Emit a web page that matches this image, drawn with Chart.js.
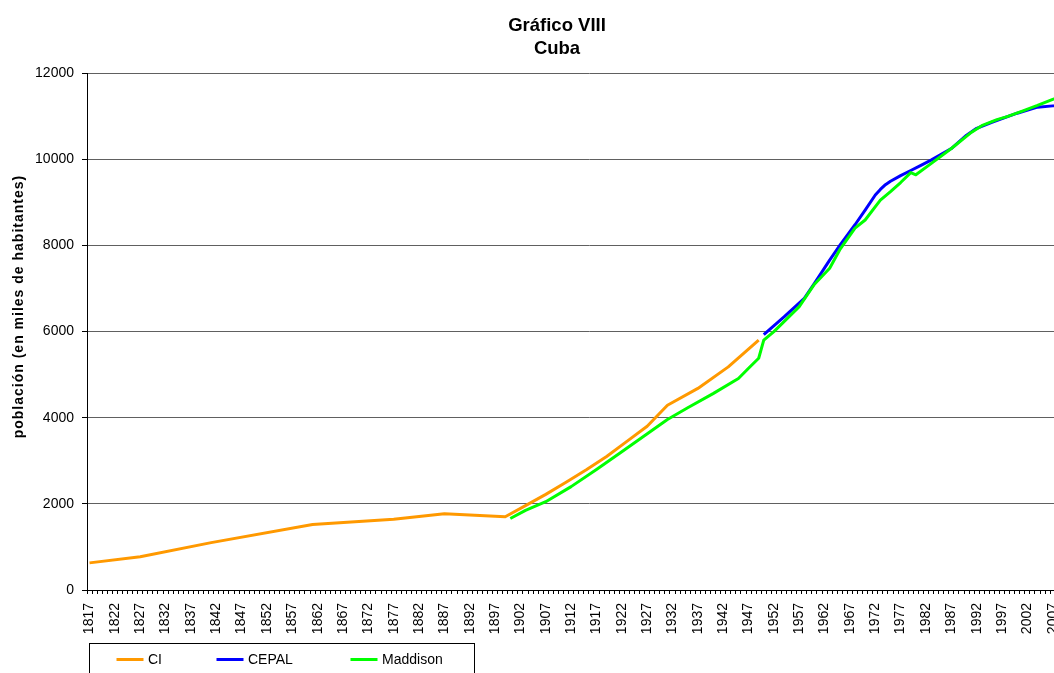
<!DOCTYPE html>
<html>
<head>
<meta charset="utf-8">
<title>Gráfico VIII - Cuba</title>
<script src="https://cdn.jsdelivr.net/npm/chart.js@4.4.1/dist/chart.umd.min.js"></script>
<style>
  html, body { margin: 0; padding: 0; background: #fff; overflow: hidden; }
  canvas { display: block; }
</style>
</head>
<body>
<canvas id="chart" width="1114" height="690"></canvas>
<script>
// categories: one per year, labelled every 5 years
// (the original chart runs past the right edge of the picture)
const firstYear = 1817;
const lastYear = 2014;
const labelStep = 5;
const years = [];
for (let y = firstYear; y <= lastYear; y++) years.push(String(y));

// CI
const ciYears = [1817, 1827, 1841, 1861, 1877, 1887, 1899, 1903, 1907, 1911, 1915, 1919, 1923, 1927, 1931, 1937, 1943, 1949];
const ciValues = [630, 770, 1100, 1520, 1640, 1770, 1700, 1960, 2220, 2500, 2790, 3100, 3450, 3800, 4290, 4680, 5180, 5800];

// CEPAL
const cepalYears = [1950, 1954, 1958, 1960, 1963, 1965, 1968, 1970, 1972, 1973, 1974, 1975, 1977, 1979, 1981, 1983, 1987, 1990, 1992, 1995, 2000, 2004, 2007, 2010];
const cepalValues = [5930, 6340, 6770, 7120, 7660, 8000, 8480, 8820, 9170, 9300, 9410, 9490, 9620, 9740, 9860, 9980, 10250, 10560, 10720, 10860, 11070, 11210, 11240, 11250];

// Maddison
const maddisonYears = [1900, 1903, 1907, 1912, 1917, 1922, 1928, 1931, 1935, 1940, 1945, 1947, 1949, 1950, 1952, 1957, 1960, 1963, 1965, 1968, 1970, 1973, 1975, 1977, 1979, 1980, 1983, 1987, 1991, 1993, 1996, 1998, 2001, 2004, 2007, 2008];
const maddisonValues = [1660, 1850, 2050, 2400, 2800, 3210, 3710, 3960, 4230, 4560, 4910, 5150, 5380, 5800, 6000, 6580, 7100, 7470, 7900, 8400, 8590, 9050, 9250, 9460, 9690, 9640, 9900, 10250, 10630, 10780, 10920, 10990, 11120, 11250, 11390, 11430];

const chartTitle = ["Gráfico VIII", "Cuba"];
const yTitle = "población (en miles de habitantes)";

const fontFamily = '"Liberation Sans", Arial, sans-serif';

function toPoints(xs, vs) {
  return xs.map((x, i) => ({ x: String(x), y: vs[i] }));
}

// y axis title, a bit above the middle as in the original
const yTitlePlugin = {
  id: "yTitle",
  afterDraw(chart) {
    const { ctx, chartArea } = chart;
    ctx.save();
    ctx.translate(chartArea.left - 68, (chartArea.top + chartArea.bottom) / 2 - 25);
    ctx.rotate(-Math.PI / 2);
    ctx.font = "bold 14px " + fontFamily;
    if ("letterSpacing" in ctx) ctx.letterSpacing = "1px";
    ctx.textAlign = "center";
    ctx.textBaseline = "middle";
    ctx.fillStyle = "#000";
    ctx.fillText(yTitle, 0, 0);
    ctx.restore();
  },
};

// boxed legend under the axis labels
const boxLegend = {
  id: "boxLegend",
  afterDraw(chart) {
    const { ctx, chartArea } = chart;
    const left = chartArea.left + 2.5;
    const top = chartArea.bottom + 53.5;
    const itemX = [27, 127, 261];

    ctx.save();
    ctx.strokeStyle = "#000";
    ctx.lineWidth = 1;
    ctx.strokeRect(left, top, 385, 40);

    ctx.font = "14px " + fontFamily;
    ctx.textBaseline = "middle";
    ctx.fillStyle = "#000";

    chart.data.datasets.forEach((ds, i) => {
      const x = left + itemX[i];
      const y = top + 16;
      ctx.strokeStyle = ds.borderColor;
      ctx.lineWidth = 3;
      ctx.beginPath();
      ctx.moveTo(x, y);
      ctx.lineTo(x + 27, y);
      ctx.stroke();
      ctx.fillText(ds.label, x + 31.5, y + 1);
    });
    ctx.restore();
  },
};

const ctx = document.getElementById("chart").getContext("2d");

new Chart(ctx, {
  type: "line",
  data: {
    labels: years,
    datasets: [
      {
        label: "CI",
        data: toPoints(ciYears, ciValues),
        borderColor: "#FF9900",
        backgroundColor: "#FF9900",
        borderWidth: 3,
        order: 2,
      },
      {
        label: "CEPAL",
        data: toPoints(cepalYears, cepalValues),
        borderColor: "#0000FF",
        backgroundColor: "#0000FF",
        borderWidth: 3,
        order: 1,
      },
      {
        label: "Maddison",
        data: toPoints(maddisonYears, maddisonValues),
        borderColor: "#00FF00",
        backgroundColor: "#00FF00",
        borderWidth: 3,
        order: 0,
      },
    ],
  },
  options: {
    responsive: false,
    animation: false,
    devicePixelRatio: 1,
    layout: { padding: { left: 0, right: 0, top: 0, bottom: 50 } },
    elements: {
      point: { radius: 0, hoverRadius: 0 },
      line: { tension: 0, borderJoinStyle: "round", fill: false },
    },
    plugins: {
      legend: { display: false },
      tooltip: { enabled: false },
      title: {
        display: true,
        text: chartTitle,
        color: "#000",
        font: { family: fontFamily, size: 18.5, weight: "bold", lineHeight: 1.22 },
        padding: { top: 15, bottom: 13 },
      },
    },
    scales: {
      x: {
        type: "category",
        offset: true,
        grid: {
          offset: true,
          drawOnChartArea: false,
          drawTicks: true,
          tickLength: 4,
          color: "#000",
        },
        border: { display: true, color: "#000", width: 1 },
        ticks: {
          autoSkip: false,
          maxRotation: 90,
          minRotation: 90,
          padding: 9,
          color: "#000",
          font: { family: fontFamily, size: 14 },
          callback: (value, index) =>
            (Number(years[index]) - firstYear) % labelStep === 0 ? years[index] : "",
        },
        afterFit: (scale) => {
          scale.height = 50;
        },
      },
      y: {
        min: 0,
        max: 12000,
        grid: { color: "#606060", tickColor: "#000", tickLength: 5, lineWidth: 1 },
        border: { display: true, color: "#000", width: 1 },
        ticks: {
          stepSize: 2000,
          padding: 8,
          color: "#000",
          font: { family: fontFamily, size: 14 },
          callback: (value) => String(value),
        },
        afterFit: (scale) => {
          scale.width = 87;
        },
      },
    },
  },
  plugins: [yTitlePlugin, boxLegend],
});
</script>
</body>
</html>
